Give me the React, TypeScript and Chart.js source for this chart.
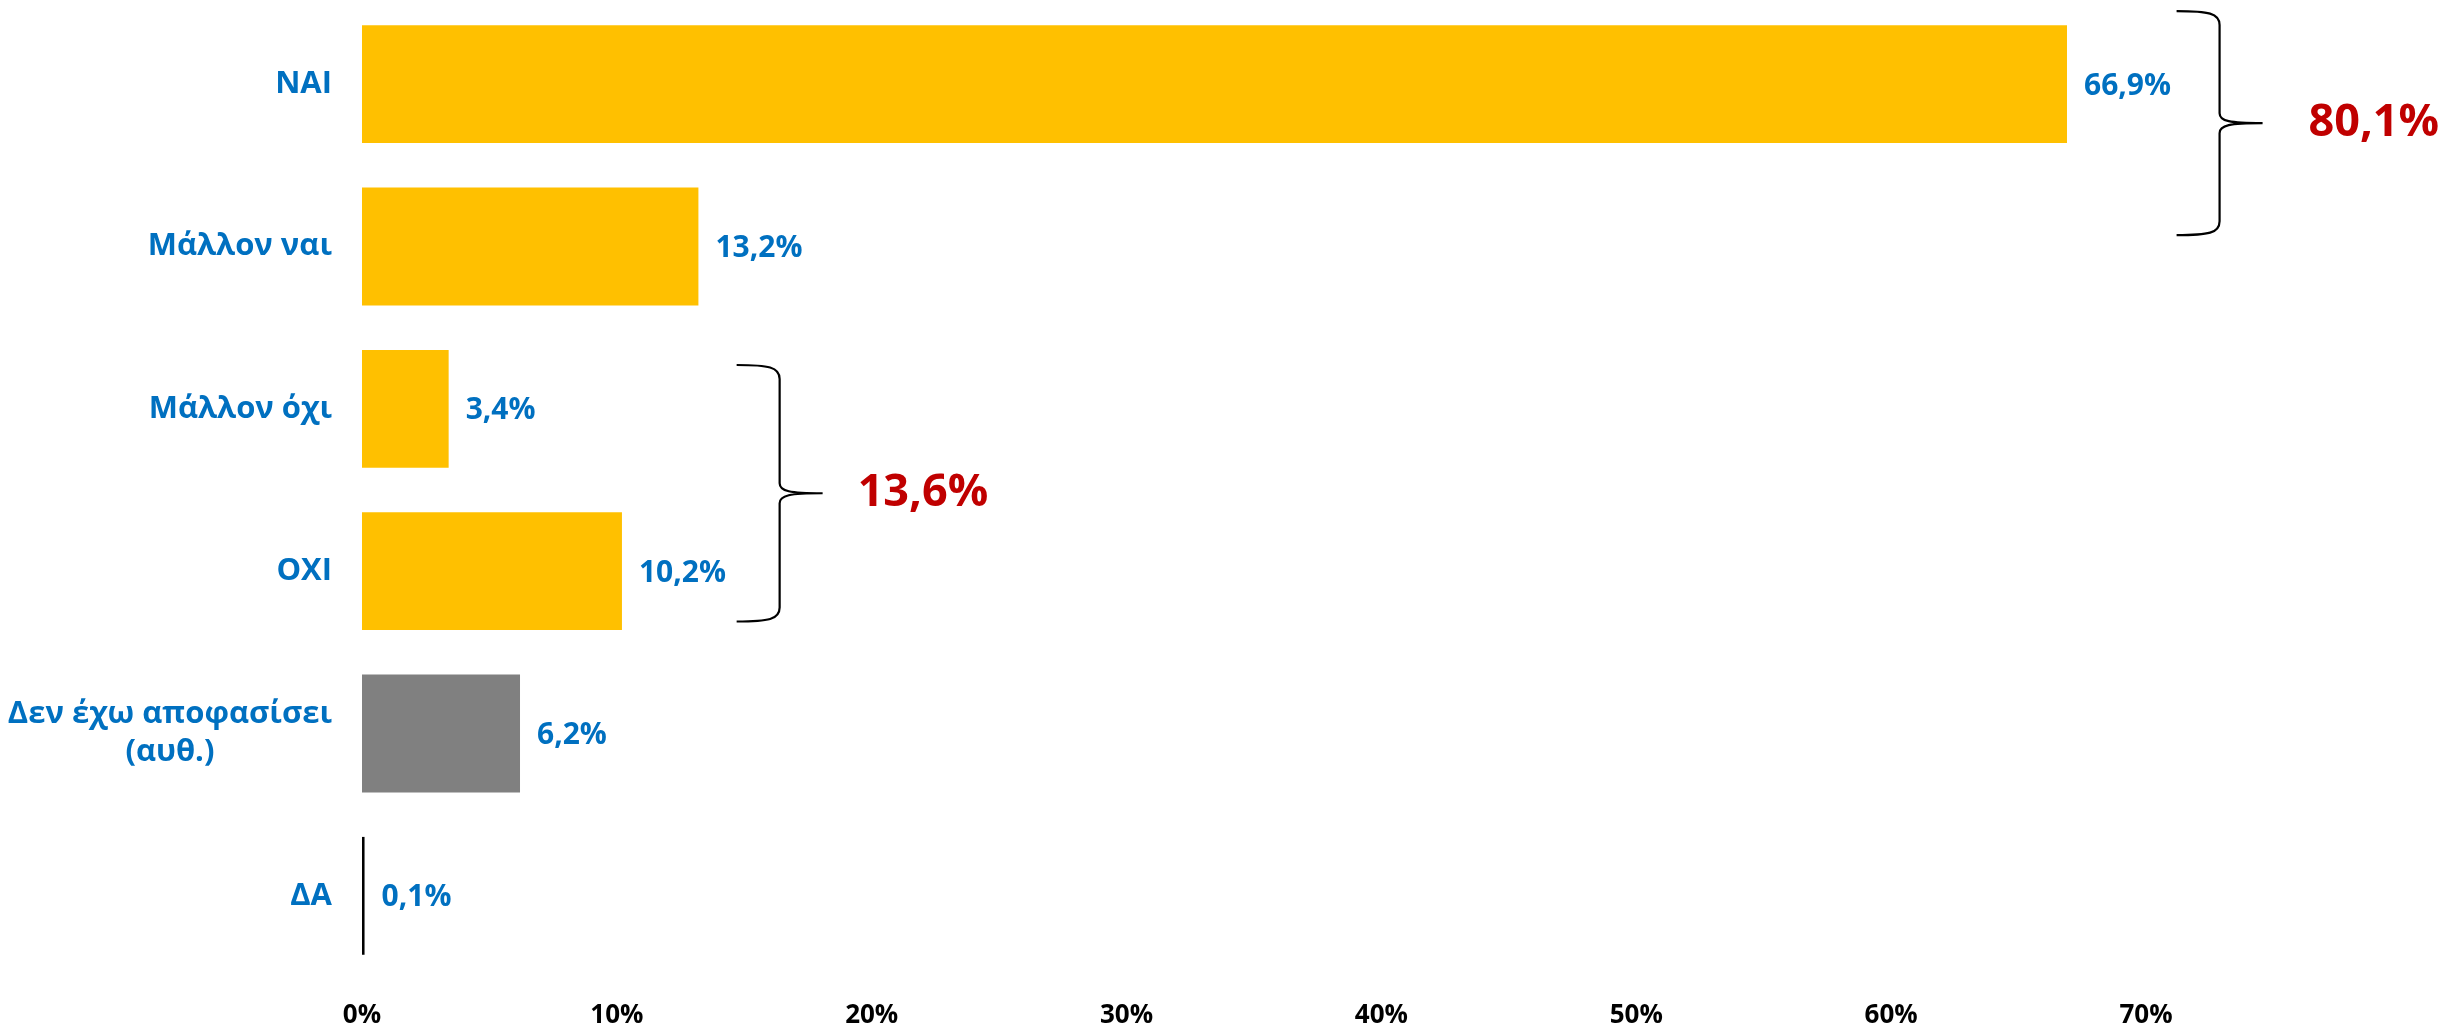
import React, { useEffect, useRef } from 'react';
import { Chart, registerables } from 'chart.js';

Chart.register(...registerables);

// ---- data ----
const categoryLines: string[][] = [
  ['ΝΑΙ'],
  ['Μάλλον ναι'],
  ['Μάλλον όχι'],
  ['ΟΧΙ'],
  ['Δεν έχω αποφασίσει', '(αυθ.)'],
  ['ΔΑ'],
];
const values = [66.9, 13.2, 3.4, 10.2, 6.2, 0.1];
const valueLabels = ['66,9%', '13,2%', '3,4%', '10,2%', '6,2%', '0,1%'];
const barColors = ['#FFC000', '#FFC000', '#FFC000', '#FFC000', '#808080', '#000000'];
const xMax = 70;
const xStep = 10;

// brace groups (category-index range covered, x value of brace, total text)
const groupFrom = [-0.45, 1.73];
const groupTo = [0.93, 3.31];
const groupX = [71.2, 14.7];
const groupTotals = ['80,1%', '13,6%'];
const totalGap = [46, 35];

const FONT = '"Open Sans", "DejaVu Sans", sans-serif';
const BLUE = '#0070C0';
const RED = '#C00000';

const overlayPlugin = {
  id: 'overlay',
  afterDraw(chart: any) {
    const ctx = chart.ctx;
    const xs = chart.scales.x;
    const ys = chart.scales.y;
    const area = chart.chartArea;
    ctx.save();

    // category labels (right aligned block, lines centered within block)
    ctx.font = `bold 31px ${FONT}`;
    ctx.fillStyle = BLUE;
    ctx.textBaseline = 'middle';
    ctx.textAlign = 'center';
    const right = area.left - 30;
    const lh = 38;
    categoryLines.forEach((lines, i) => {
      const cy = ys.getPixelForValue(i);
      const widest = Math.max(...lines.map((l) => ctx.measureText(l).width));
      const cx = right - widest / 2;
      lines.forEach((l, j) => {
        const y = cy + (j - (lines.length - 1) / 2) * lh;
        ctx.fillText(l, cx, y);
      });
    });

    // value labels
    ctx.font = `bold 30px ${FONT}`;
    ctx.textAlign = 'left';
    const meta = chart.getDatasetMeta(0);
    meta.data.forEach((bar: any, i: number) => {
      ctx.fillText(valueLabels[i], bar.x + 17, bar.y + 2);
    });

    // braces
    groupFrom.forEach((f, g) => {
      const top = ys.getPixelForValue(f);
      const bottom = ys.getPixelForValue(groupTo[g]);
      const x0 = xs.getPixelForValue(groupX[g]);
      const xsP = x0 + 43;
      const xt = xsP + 43;
      const my = (top + bottom) / 2;
      ctx.strokeStyle = '#000';
      ctx.lineWidth = 2.2;
      ctx.beginPath();
      ctx.moveTo(x0, top);
      ctx.bezierCurveTo(x0 + 32, top, xsP, top + 2, xsP, top + 14);
      ctx.lineTo(xsP, my - 10);
      ctx.bezierCurveTo(xsP, my - 2, xsP + 10, my, xt, my);
      ctx.moveTo(xt, my);
      ctx.bezierCurveTo(xsP + 10, my, xsP, my + 2, xsP, my + 10);
      ctx.lineTo(xsP, bottom - 14);
      ctx.bezierCurveTo(xsP, bottom - 2, x0 + 32, bottom, x0, bottom);
      ctx.stroke();

      ctx.font = `bold 45px ${FONT}`;
      ctx.fillStyle = RED;
      ctx.textAlign = 'left';
      ctx.textBaseline = 'middle';
      ctx.fillText(groupTotals[g], xt + totalGap[g], my);
    });
    ctx.restore();
  },
};

export default function App() {
  const ref = useRef<HTMLCanvasElement | null>(null);
  useEffect(() => {
    if (!ref.current) return;
    const chart = new Chart(ref.current, {
      type: 'bar',
      data: {
        labels: categoryLines.map((l) => l.join(' ')),
        datasets: [
          {
            data: values,
            backgroundColor: barColors,
            borderWidth: 0,
            barPercentage: 0.726,
            categoryPercentage: 1,
          },
        ],
      },
      options: {
        indexAxis: 'y',
        animation: false,
        responsive: false,
        devicePixelRatio: 1,
        layout: { padding: { top: 3, right: 312, left: 0, bottom: 0 } },
        plugins: { legend: { display: false }, tooltip: { enabled: false } },
        scales: {
          x: {
            min: 0,
            max: xMax,
            grid: { display: false, drawTicks: false },
            border: { display: false },
            ticks: {
              stepSize: xStep,
              padding: 23,
              color: '#000',
              font: { family: FONT, size: 26, weight: 'bold' },
              callback: (v: any) => `${v}%`,
            },
            afterFit: (s: any) => {
              s.height = 52;
            },
          },
          y: {
            grid: { display: false, drawTicks: false },
            border: { display: false },
            ticks: { display: false },
            afterFit: (s: any) => {
              s.width = 362;
            },
          },
        },
      },
      plugins: [overlayPlugin],
    } as any);
    return () => chart.destroy();
  }, []);
  return (
    <div style={{ position: 'fixed', left: 0, top: 0, width: 2458, height: 1029, background: '#fff' }}>
      <canvas ref={ref} width={2458} height={1029} style={{ display: 'block' }} />
    </div>
  );
}
